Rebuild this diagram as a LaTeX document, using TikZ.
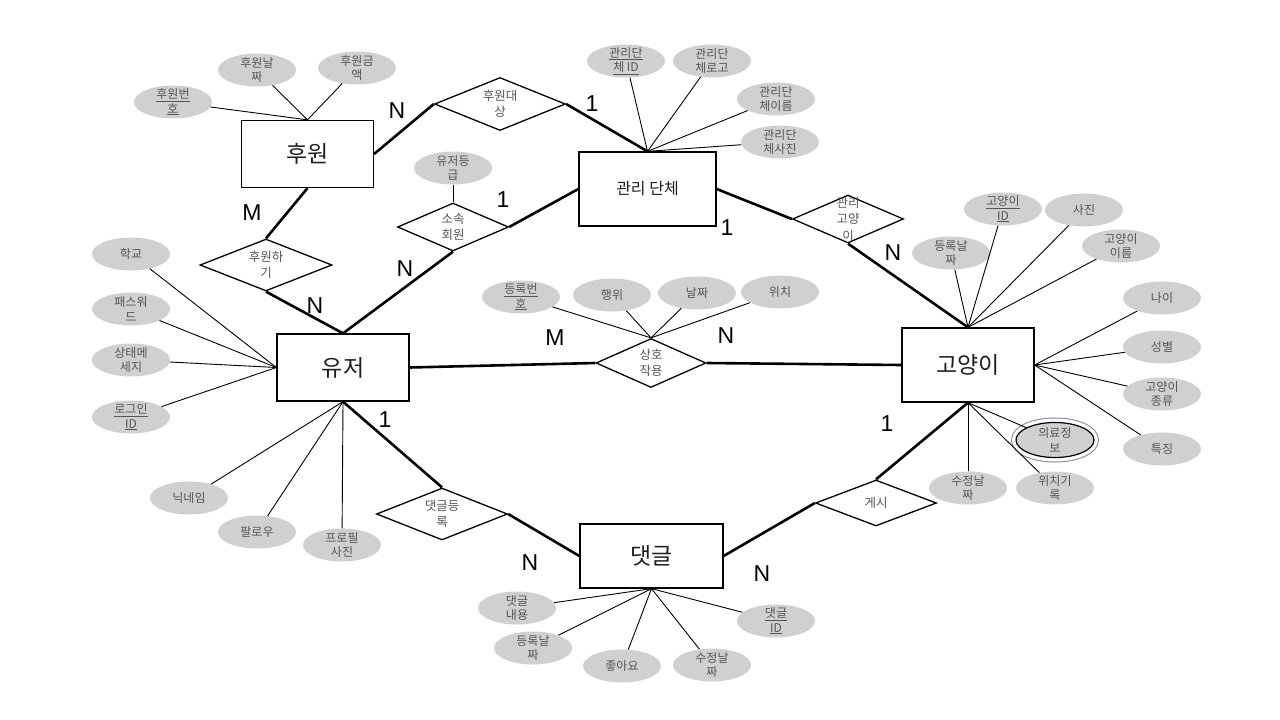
\documentclass[tikz,border=0pt]{standalone}
\usepackage{fontspec}
\setmainfont{Noto Sans CJK KR}
\newfontfamily\cardfont{Liberation Sans}
\usepackage{tikz}
\usetikzlibrary{shapes}
\definecolor{attrgray}{RGB}{208,208,208}
\definecolor{textgray}{RGB}{85,85,85}
\definecolor{ringblue}{RGB}{125,138,160}

\begin{document}
\begin{tikzpicture}[x=1pt, y=-1pt,
        entity/.style={draw, line width=1.3pt, rectangle, minimum width=132pt, minimum height=67pt, text=black!88, font=\fontsize{23}{26}\selectfont},
        relation/.style={draw, line width=1.3pt, diamond, aspect=2.5, inner sep=0pt, align=center, text=textgray, font=\fontsize{12.5}{16.5}\selectfont},
        attr/.style={ellipse, fill=attrgray, inner xsep=0pt, inner ysep=-3pt, minimum width=78pt, minimum height=33pt, align=center, text=textgray, font=\fontsize{12}{14.5}\selectfont},
        multiattr/.style={attr, draw=black, line width=1.2pt, minimum height=35pt, preaction={draw=ringblue, line width=10pt}, preaction={draw=white, line width=8pt}},
        card/.style={font=\cardfont\fontsize{23}{23}\selectfont},
        link/.style={line width=2.6pt},
        prop/.style={line width=0.9pt}]
        \path[use as bounding box, fill=white] (0,0) rectangle (1280,720);

                \node[entity]                                            (don)  at (307.5,154) {후원};
                \node[entity, minimum width=137pt, minimum height=74pt,
                      font=\fontsize{16}{18}\selectfont]                (org)  at (647.5,189) {관리 단체};
                \node[entity]                                            (user) at (343,367.5) {유저};
                \node[entity, minimum height=74pt]                       (cat)  at (968,365)   {고양이};
                \node[entity, minimum width=143pt, minimum height=64pt]  (cmt)  at (651.5,556) {댓글};

                \node[relation, minimum width=131pt, minimum height=53pt]  (target) at (500,104) {후원대\\상};
                \node[relation, minimum width=132pt, minimum height=52pt]  (donate) at (266,265) {후원하\\기};
                \node[relation, minimum width=111pt, minimum height=48pt]  (member) at (453,227) {소속\\회원};
                \node[relation, minimum width=111pt, minimum height=48pt,
                      inner sep=-9pt, aspect=2.3]                          (manage) at (848,219) {관리\\고양\\이};
                \node[relation, minimum width=110pt, minimum height=49pt]  (inter)  at (651,363) {상호\\작용};
                \node[relation, minimum width=131pt, minimum height=52pt]  (write)  at (442,514) {댓글등\\록};
                \node[relation, minimum width=121pt, minimum height=46pt]  (post)   at (876,503) {게시};

                \node[attr] (donid)   at (173,102)  {\underline{후원번}\\\underline{호}};
                \node[attr] (dondate) at (257,70)   {후원날\\짜};
                \node[attr] (donamt)  at (357,68)   {후원금\\액};
                \node[attr] (orgid)   at (626,61)   {\underline{관리단}\\\underline{체 ID}};
                \node[attr] (orglogo) at (712,61)   {관리단\\체로고};
                \node[attr] (orgname) at (776,99)   {관리단\\체이름};
                \node[attr] (orgpic)  at (780,142)  {관리단\\체사진};
                \node[attr] (grade)   at (453,168)  {유저등\\급};
                \node[attr] (school)  at (131,254)  {학교};
                \node[attr] (pw)      at (131,309)  {패스워\\드};
                \node[attr] (status)  at (131,360)  {상태메\\세지};
                \node[attr] (loginid) at (131,417)  {\underline{로그인}\\\underline{ID}};
                \node[attr] (nick)    at (189,498)  {닉네임};
                \node[attr] (follow)  at (257,532)  {팔로우};
                \node[attr] (profile) at (342,545)  {프로필\\사진};
                \node[attr] (regno)   at (521,297)  {\underline{등록번}\\\underline{호}};
                \node[attr] (act)     at (612,295)  {행위};
                \node[attr] (date)    at (697,293)  {날짜};
                \node[attr] (loc)     at (780,292)  {위치};
                \node[attr] (catreg)  at (951,253)  {등록날\\짜};
                \node[attr] (catid)   at (1003,209) {\underline{고양이}\\\underline{ID}};
                \node[attr] (catpic)  at (1084,210) {사진};
                \node[attr] (catname) at (1121,246) {고양이\\이름};
                \node[attr] (age)     at (1162,298) {나이};
                \node[attr] (sex)     at (1162,347) {성별};
                \node[attr] (breed)   at (1162,394) {고양이\\종류};
                \node[attr] (feat)    at (1162,449) {특징};
                \node[multiattr] (med) at (1055,440) {의료정\\보};
                \node[attr] (catmod)  at (968,488)  {수정날\\짜};
                \node[attr] (trace)   at (1055,488) {위치기\\록};
                \node[attr] (content) at (517,608)  {댓글\\내용};
                \node[attr] (cmreg)   at (533,648)  {등록날\\짜};
                \node[attr] (like)    at (622,666)  {좋아요};
                \node[attr] (cmmod)   at (712,665)  {수정날\\짜};
                \node[attr] (cmid)    at (776,621)  {\underline{댓글}\\\underline{ID}};

                \node[card] (c_don)    at (397,111) {N};
                \node[card] (c_tgt)    at (592,104) {1};
                \node[card] (c_dnr)    at (252,213) {M};
                \node[card] (c_dnu)    at (315,306) {N};
                \node[card] (c_mbu)    at (405,269) {N};
                \node[card] (c_mbo)    at (503,200) {1};
                \node[card] (c_mgo)    at (727,228) {1};
                \node[card] (c_mgc)    at (893,253) {N};
                \node[card] (c_itu)    at (555,338) {M};
                \node[card] (c_itc)    at (726,336) {N};
                \node[card] (c_wru)    at (385,420) {1};
                \node[card] (c_wrc)    at (530,563) {N};
                \node[card] (c_psc)    at (887,424) {1};
                \node[card] (c_psm)    at (762,574) {N};

            \path[link] (don.east)     edge (target.west)
                        (target.east)  edge (org.north)
                        (don.south)    edge (donate.north)
                        (donate.south) edge (user.north)
                        (user.north)   edge (member.south)
                        (member.east)  edge (org.west)
                        (org.east)     edge (manage.west)
                        (manage.south) edge (cat.north)
                        (user.east)    edge (inter.west)
                        (inter.east)   edge (cat.west)
                        (user.south)   edge (write.north)
                        (write.east)   edge (cmt.west)
                        (cmt.east)     edge (post.west)
                        (post.north)   edge (cat.south);

            \path[prop] (donid)   edge (don.north)
                        (dondate) edge (don.north)
                        (donamt)  edge (don.north)
                        (orgid)   edge (org.north)
                        (orglogo) edge (org.north)
                        (orgname) edge (org.north)
                        (orgpic)  edge (org.north)
                        (grade)   edge (member.north)
                        (school)  edge (user.west)
                        (pw)      edge (user.west)
                        (status)  edge (user.west)
                        (loginid) edge (user.west)
                        (nick)    edge (user.south)
                        (follow)  edge (user.south)
                        (profile) edge (user.south)
                        (regno)   edge (inter.north)
                        (act)     edge (inter.north)
                        (date)    edge (inter.north)
                        (loc)     edge (inter.north)
                        (catreg)  edge (cat.north)
                        (catid)   edge (cat.north)
                        (catpic)  edge (cat.north)
                        (catname) edge (cat.north)
                        (age)     edge (cat.east)
                        (sex)     edge (cat.east)
                        (breed)   edge (cat.east)
                        (feat)    edge (cat.east)
                        (med)     edge (cat.south)
                        (catmod)  edge (cat.south)
                        (trace)   edge (cat.south)
                        (content) edge (cmt.south)
                        (cmreg)   edge (cmt.south)
                        (like)    edge (cmt.south)
                        (cmmod)   edge (cmt.south)
                        (cmid)    edge (cmt.south);
        \end{tikzpicture}
\end{document}
